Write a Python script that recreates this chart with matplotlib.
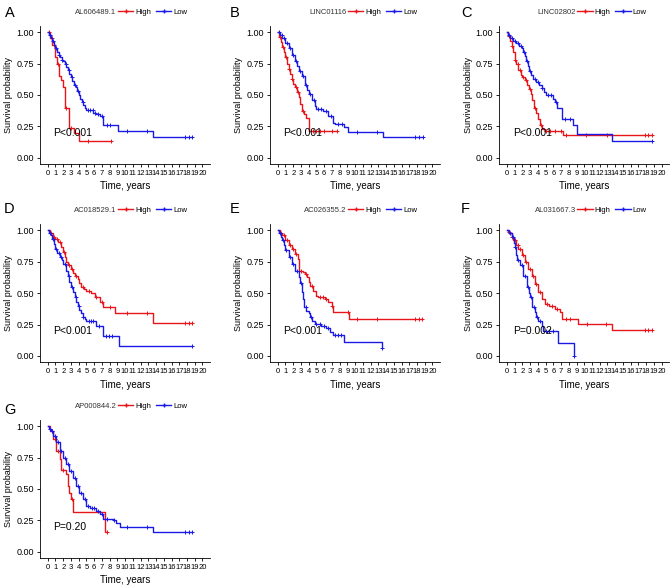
import numpy as np
import matplotlib
matplotlib.use("Agg")
import matplotlib.pyplot as plt
from matplotlib.lines import Line2D

plt.rcParams["font.family"] = ["Liberation Sans", "DejaVu Sans"]

RED = "#E8151B"
BLUE = "#1A1AE6"

genes = ["AL606489.1", "LINC01116", "LINC02802", "AC018529.1", "AC026355.2", "AL031667.3", "AP000844.2"]
letters = ["A", "B", "C", "D", "E", "F", "G"]
pvals = ["P<0.001", "P<0.001", "P<0.001", "P<0.001", "P<0.001", "P=0.002", "P=0.20"]

# step curves: (times, survival), end time, censor times
high_t = [
    [0, 0.3, 0.6, 0.9, 1.2, 1.5, 1.75, 2.0, 2.2, 2.75, 3.35, 4.0],
    [0, 0.2, 0.4, 0.6, 0.8, 1.0, 1.2, 1.4, 1.6, 1.8, 2.0, 2.2, 2.5, 2.7, 2.9, 3.1, 3.4, 3.6, 4.05],
    [0, 0.2, 0.4, 0.6, 0.8, 1.0, 1.2, 1.5, 1.8, 2.0, 2.3, 2.6, 2.8, 3.1, 3.3, 3.5, 3.7, 4.0, 4.3, 4.6, 4.9, 7.2],
    [0, 0.3, 0.7, 1.0, 1.3, 1.75, 2.0, 2.2, 2.4, 2.6, 3.05, 3.3, 3.5, 3.9, 4.1, 4.3, 4.7, 5.0, 5.6, 6.05, 6.7, 7.2, 8.7, 13.6],
    [0, 0.3, 0.6, 1.0, 1.4, 1.8, 2.25, 2.6, 2.75, 3.3, 3.5, 3.75, 4.0, 4.2, 4.6, 4.9, 5.2, 6.1, 6.5, 7.0, 7.15, 9.15],
    [0, 0.2, 0.4, 0.6, 0.85, 1.2, 1.5, 1.9, 2.35, 2.75, 3.2, 3.6, 4.05, 4.5, 4.9, 5.5, 6.2, 6.9, 7.1, 9.15, 13.55],
    [0, 0.3, 0.7, 1.1, 1.55, 1.75, 2.4, 2.6, 2.8, 3.05, 3.25, 7.35],
]
high_s = [
    [1, 0.95, 0.9, 0.8, 0.75, 0.65, 0.62, 0.56, 0.40, 0.24, 0.20, 0.13],
    [1, 0.96, 0.92, 0.88, 0.84, 0.80, 0.75, 0.71, 0.67, 0.63, 0.59, 0.56, 0.52, 0.48, 0.43, 0.37, 0.35, 0.32, 0.215],
    [1, 0.97, 0.93, 0.89, 0.84, 0.78, 0.75, 0.70, 0.66, 0.64, 0.62, 0.58, 0.55, 0.51, 0.46, 0.40, 0.36, 0.31, 0.26, 0.23, 0.21, 0.18],
    [1, 0.98, 0.95, 0.93, 0.91, 0.87, 0.83, 0.79, 0.75, 0.72, 0.69, 0.66, 0.64, 0.615, 0.58, 0.55, 0.53, 0.515, 0.50, 0.47, 0.43, 0.39, 0.345, 0.26],
    [1, 0.98, 0.96, 0.92, 0.88, 0.85, 0.81, 0.77, 0.68, 0.67, 0.65, 0.63, 0.59, 0.56, 0.52, 0.48, 0.47, 0.455, 0.43, 0.40, 0.35, 0.29],
    [1, 0.99, 0.975, 0.95, 0.92, 0.885, 0.855, 0.80, 0.75, 0.69, 0.64, 0.575, 0.51, 0.455, 0.415, 0.40, 0.37, 0.35, 0.29, 0.255, 0.205],
    [1, 0.96, 0.895, 0.80, 0.735, 0.65, 0.615, 0.52, 0.47, 0.42, 0.32, 0.16],
]
high_end = [8.2, 7.7, 18.8, 18.7, 18.6, 18.8, 7.7]
high_cens = [
    [0.2, 0.5, 0.8, 1.3, 2.3, 3.0, 5.2, 8.2],
    [0.3, 0.7, 1.1, 1.5, 1.9, 2.3, 2.6, 3.3, 4.5, 5.0, 5.5, 6.0, 7.0, 7.7],
    [0.3, 0.7, 1.1, 1.4, 1.7, 2.1, 2.5, 3.0, 3.6, 4.4, 5.0, 5.6, 6.2, 7.0, 7.6, 10.2, 13.0, 17.8, 18.3, 18.8],
    [0.4, 0.8, 1.2, 1.6, 2.1, 2.8, 3.2, 3.7, 4.5, 5.3, 6.3, 7.0, 8.1, 10.3, 12.8, 17.8, 18.3, 18.7],
    [0.4, 0.8, 1.2, 1.6, 2.0, 2.4, 3.0, 3.6, 4.4, 5.4, 5.8, 6.3, 7.0, 9.1, 10.3, 12.8, 17.8, 18.3, 18.6],
    [0.3, 0.7, 1.0, 1.4, 1.7, 2.1, 2.5, 3.0, 3.4, 3.8, 4.3, 5.2, 5.8, 6.5, 7.6, 8.2, 10.3, 12.8, 17.8, 18.3, 18.8],
    [0.5, 0.9, 1.3, 2.0, 3.1, 7.7],
]

low_t = [
    [0, 0.2, 0.4, 0.6, 0.8, 1.0, 1.2, 1.4, 1.6, 1.8, 2.0, 2.2, 2.4, 2.6, 2.8, 3.0, 3.2, 3.4, 3.6, 3.8, 4.0, 4.2, 4.4, 4.6, 4.8, 5.0, 5.9, 6.3, 6.7, 7.2, 9.05, 13.6],
    [0, 0.3, 0.6, 1.0, 1.4, 1.8, 2.2, 2.5, 2.8, 3.1, 3.5, 3.8, 4.0, 4.4, 4.8, 5.0, 5.9, 6.5, 7.1, 7.4, 8.6, 9.1, 13.6],
    [0, 0.2, 0.4, 0.8, 1.2, 1.6, 1.9, 2.1, 2.3, 2.5, 2.7, 2.9, 3.1, 3.4, 3.8, 4.2, 4.5, 4.8, 5.0, 5.9, 6.2, 6.5, 7.1, 8.6, 9.05, 13.6],
    [0, 0.2, 0.4, 0.6, 0.8, 1.0, 1.2, 1.55, 1.8, 2.0, 2.4, 2.6, 2.8, 3.0, 3.25, 3.5, 3.7, 3.9, 4.1, 4.3, 4.55, 4.8, 5.0, 6.3, 7.2, 9.2],
    [0, 0.2, 0.4, 0.6, 0.8, 1.0, 1.4, 1.8, 2.25, 2.7, 2.9, 3.1, 3.3, 3.45, 3.7, 4.0, 4.2, 4.4, 4.8, 5.65, 6.3, 6.7, 7.15, 8.55, 13.5],
    [0, 0.3, 0.6, 0.9, 1.06, 1.2, 1.3, 1.7, 2.1, 2.55, 2.8, 3.0, 3.3, 3.6, 3.8, 4.05, 4.5, 4.7, 6.6, 8.65],
    [0, 0.2, 0.4, 0.7, 1.1, 1.55, 2.0, 2.4, 2.8, 3.25, 3.7, 4.1, 4.55, 5.0, 5.4, 6.3, 6.7, 7.2, 8.4, 8.85, 9.3, 13.65],
]
low_s = [
    [1, 0.98, 0.95, 0.93, 0.90, 0.87, 0.84, 0.82, 0.80, 0.78, 0.77, 0.75, 0.72, 0.70, 0.67, 0.64, 0.61, 0.58, 0.56, 0.53, 0.50, 0.47, 0.44, 0.42, 0.40, 0.38, 0.36, 0.35, 0.33, 0.26, 0.21, 0.165],
    [1, 0.98, 0.95, 0.91, 0.87, 0.82, 0.77, 0.73, 0.69, 0.65, 0.58, 0.54, 0.51, 0.46, 0.41, 0.39, 0.37, 0.33, 0.28, 0.265, 0.245, 0.205, 0.165],
    [1, 0.98, 0.95, 0.93, 0.91, 0.89, 0.87, 0.84, 0.81, 0.77, 0.73, 0.69, 0.66, 0.63, 0.60, 0.58, 0.555, 0.52, 0.50, 0.47, 0.44, 0.40, 0.31, 0.26, 0.19, 0.13],
    [1, 0.98, 0.96, 0.93, 0.89, 0.85, 0.82, 0.79, 0.76, 0.73, 0.68, 0.64, 0.59, 0.55, 0.51, 0.47, 0.43, 0.40, 0.365, 0.34, 0.31, 0.29, 0.275, 0.24, 0.16, 0.08],
    [1, 0.98, 0.95, 0.92, 0.88, 0.84, 0.79, 0.735, 0.68, 0.63, 0.58, 0.51, 0.45, 0.39, 0.36, 0.34, 0.31, 0.28, 0.255, 0.24, 0.22, 0.19, 0.165, 0.11, 0.06],
    [1, 0.98, 0.95, 0.90, 0.87, 0.80, 0.76, 0.72, 0.64, 0.55, 0.50, 0.47, 0.39, 0.35, 0.31, 0.28, 0.24, 0.20, 0.10, 0.0],
    [1, 0.98, 0.96, 0.92, 0.87, 0.80, 0.75, 0.70, 0.64, 0.59, 0.52, 0.47, 0.42, 0.365, 0.35, 0.325, 0.30, 0.26, 0.255, 0.23, 0.20, 0.16],
]
low_end = [18.7, 18.8, 18.8, 18.6, 13.5, 8.65, 18.7]
low_cens = [
    [0.3, 0.7, 1.1, 1.5, 1.9, 2.3, 2.7, 3.1, 3.5, 3.9, 4.5, 5.2, 5.5, 5.8, 6.1, 6.5, 7.0, 7.6, 8.0, 10.3, 12.8, 17.8, 18.3, 18.7],
    [0.2, 0.5, 0.8, 1.2, 1.6, 2.0, 2.4, 2.9, 3.3, 3.7, 4.2, 4.7, 5.2, 5.6, 6.2, 6.9, 7.8, 8.3, 10.3, 12.8, 17.8, 18.3, 18.8],
    [0.3, 0.6, 1.0, 1.4, 1.8, 2.2, 2.6, 3.0, 3.6, 4.0, 4.6, 5.3, 5.7, 6.3, 7.5, 8.2, 18.8],
    [0.3, 0.7, 1.1, 1.4, 1.7, 2.2, 2.7, 3.1, 3.6, 4.0, 4.6, 5.3, 5.6, 5.9, 6.6, 7.5, 7.9, 8.3, 18.6],
    [0.3, 0.7, 1.1, 1.6, 2.0, 2.5, 3.0, 3.6, 4.3, 5.0, 5.4, 6.0, 6.5, 7.4, 7.8, 8.2, 13.5],
    [0.4, 0.8, 1.1, 1.5, 1.9, 2.3, 2.7, 3.1, 3.5, 3.9, 4.3, 5.0, 5.5, 6.0, 8.65],
    [0.3, 0.6, 0.9, 1.3, 1.7, 2.2, 2.6, 3.0, 3.5, 3.9, 4.3, 4.8, 5.2, 5.7, 6.0, 6.5, 7.0, 7.6, 8.6, 10.3, 12.8, 17.8, 18.3, 18.7],
]

# axes boxes in figure fraction
lefts = [0.0597, 0.403, 0.745]
bottoms = [0.721, 0.384, 0.051]
w, h = 0.254, 0.235
letter_xy = [(5, 13), (230, 13), (461, 13), (4, 209), (230, 209), (461, 209), (4, 410)]

fig = plt.figure(figsize=(6.7, 5.88), dpi=100)


def draw_curve(ax, t, s, end, cens, color):
    tt = list(t) + [end]
    ss = list(s) + [s[-1]]
    ax.step(tt, ss, where="post", color=color, lw=1.0)
    c = np.array(cens)
    idx = np.searchsorted(np.array(t), c, side="right") - 1
    cy = np.array(s)[idx]
    ax.plot(c, cy, ls="none", marker="+", ms=3.5, mew=0.7, color=color)


for i in range(7):
    r, col = divmod(i, 3)
    ax = fig.add_axes([lefts[col], bottoms[r], w, h])
    draw_curve(ax, high_t[i], high_s[i], high_end[i], high_cens[i], RED)
    draw_curve(ax, low_t[i], low_s[i], low_end[i], low_cens[i], BLUE)

    ax.set_xlim(-1, 21)
    ax.set_ylim(-0.05, 1.05)
    ax.set_xticks(range(0, 21))
    ax.set_yticks([0, 0.25, 0.5, 0.75, 1.0])
    ax.set_yticklabels(["0.00", "0.25", "0.50", "0.75", "1.00"])
    ax.tick_params(axis="x", labelsize=5.5, length=2.5, width=0.6, pad=2)
    ax.tick_params(axis="y", labelsize=6.5, length=2.5, width=0.6, pad=2)
    for sp in ["top", "right"]:
        ax.spines[sp].set_visible(False)
    for sp in ["left", "bottom"]:
        ax.spines[sp].set_linewidth(0.6)
    ax.set_xlabel("Time, years", fontsize=7, labelpad=3)
    ax.set_ylabel("Survival probability", fontsize=6.5, labelpad=2)

    ax.text(0.75, 0.2, pvals[i], fontsize=7.5, ha="left", va="center")

    ax.text(0.45, 1.1, genes[i], transform=ax.transAxes, fontsize=5.5,
            ha="right", va="center", color="#333333")
    handles = [Line2D([], [], color=RED, lw=1.0, marker="+", ms=3.5),
               Line2D([], [], color=BLUE, lw=1.0, marker="+", ms=3.5)]
    ax.legend(handles, ["High", "Low"], loc="center left", bbox_to_anchor=(0.45, 1.1),
              ncol=2, frameon=False, fontsize=5.5, handlelength=2, handletextpad=0.3,
              columnspacing=0.6, borderpad=0, borderaxespad=0.2)

    fig.text(letter_xy[i][0] / 670, 1 - letter_xy[i][1] / 588, letters[i],
             fontsize=10.5, ha="left", va="center")

fig.savefig("out.png", dpi=100)
